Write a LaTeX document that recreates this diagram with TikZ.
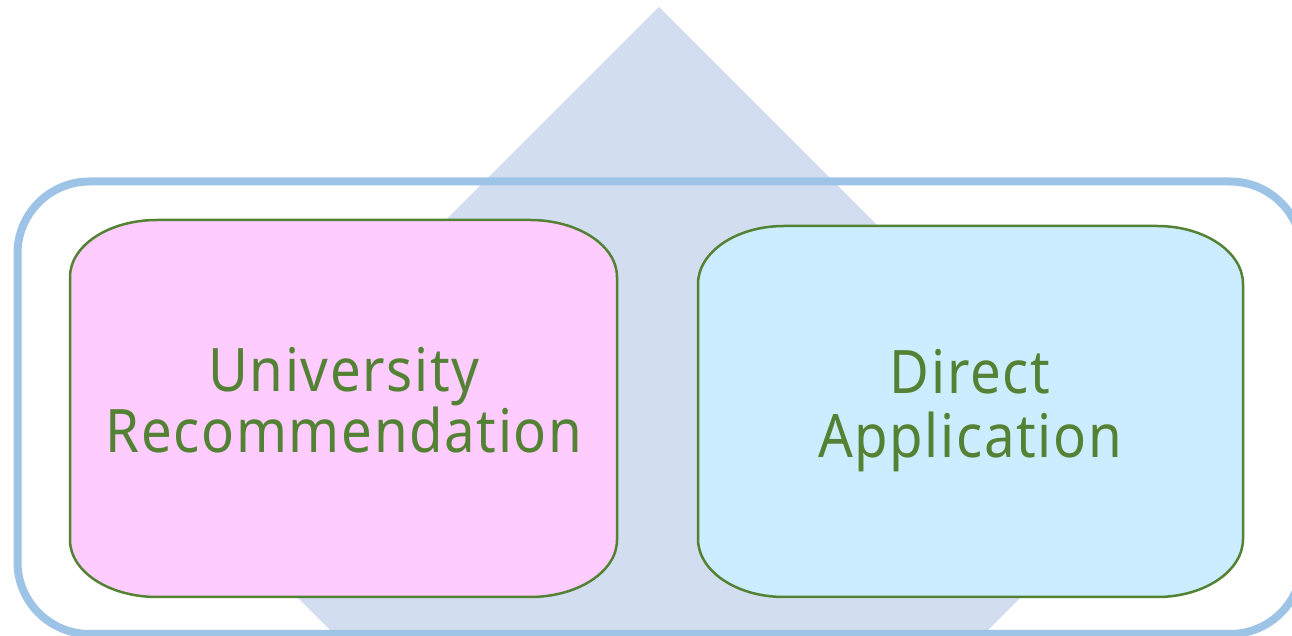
\documentclass[tikz,border=0pt]{standalone}
\usepackage{fontspec}
\setmainfont{Noto Sans}
\newfontfamily\lblfont[LetterSpace=3]{Noto Sans}
\definecolor{diamondc}{HTML}{D2DEEF}
\definecolor{outerc}{HTML}{9DC3E6}
\definecolor{pinkc}{HTML}{FFCCFF}
\definecolor{bluec}{HTML}{CCECFF}
\definecolor{greenc}{HTML}{548235}
\tikzset{
  boxline/.style={draw=greenc, line width=2.5pt},
  lbl/.style={text=greenc, anchor=base, inner sep=0pt, font=\lblfont\fontsize{60}{62}\selectfont, xscale=0.91}
}
\begin{document}
\begin{tikzpicture}[x=1pt,y=1pt]
\useasboundingbox (0,0) rectangle (1292,636);
% diamond
\fill[diamondc] (659,629) -- (1135,153) -- (659,-323) -- (183,153) -- cycle;
% outer frame
\draw[outerc, line width=8pt, rounded corners=72pt] (17.5,2) rectangle (1302,454.5);
% pink box
\path[boxline, fill=pinkc] (157,416) -- (530,416)
  arc[start angle=90,end angle=0,x radius=87,y radius=57] -- (617,96)
  arc[start angle=0,end angle=-90,x radius=87,y radius=57] -- (157,39)
  arc[start angle=-90,end angle=-180,x radius=87,y radius=57] -- (70,359)
  arc[start angle=180,end angle=90,x radius=87,y radius=57] -- cycle;
% blue box
\path[boxline, fill=bluec] (784,410) -- (1157,410)
  arc[start angle=90,end angle=0,x radius=86,y radius=58] -- (1243,97)
  arc[start angle=0,end angle=-90,x radius=86,y radius=58] -- (784,39)
  arc[start angle=-90,end angle=-180,x radius=86,y radius=58] -- (698,352)
  arc[start angle=180,end angle=90,x radius=86,y radius=58] -- cycle;
% labels
\node[lbl] (u1) at (344,244) {University};
\node[lbl] (u2) at (344,183) {Recommendation};
\node[lbl] (d1) at (970,242) {Direct};
\node[lbl] (d2) at (970,178) {Application};
\end{tikzpicture}
\end{document}
